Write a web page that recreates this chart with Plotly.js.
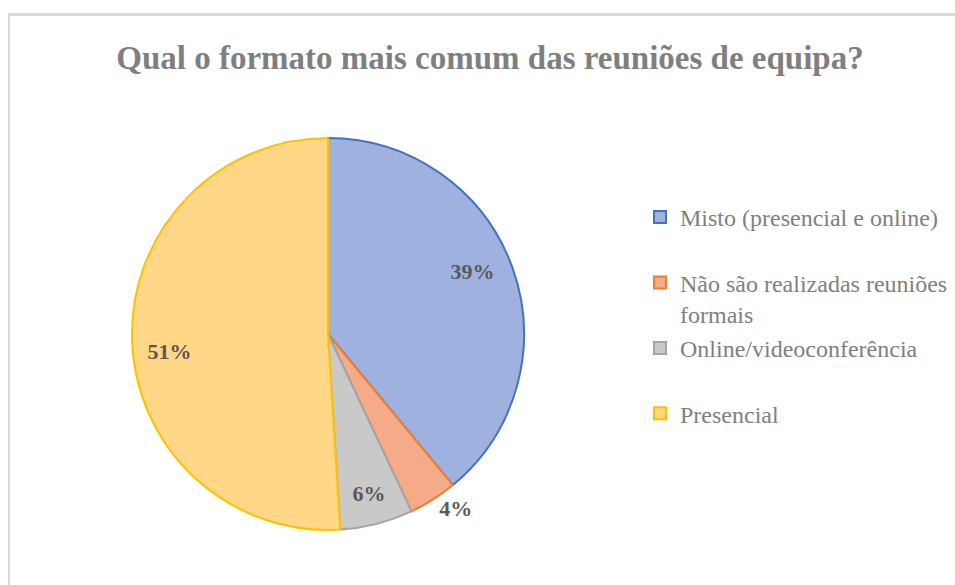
<!DOCTYPE html>
<html>
<head>
<meta charset="utf-8">
<script src="https://cdn.plot.ly/plotly-3.0.1.min.js"></script>
<style>
  html, body { margin: 0; padding: 0; background: #ffffff; }
  #frame { position: absolute; left: 8px; top: 13px; width: 960px; height: 600px;
           border-left: 2px solid #d9d9d9; border-top: 3px solid #d9d9d9; }
  #chart { position: absolute; left: 0; top: 0; width: 955px; height: 585px; }
</style>
</head>
<body>
<div id="frame"></div>
<div id="chart"></div>
<script>
const titleText = "Qual o formato mais comum das reuniões de equipa?";
const categories = [
  "Misto (presencial e online)",
  "Não são realizadas reuniões<br>formais",
  "Online/videoconferência",
  "Presencial"
];
const values = [39, 4, 6, 51];
const fillColors = ["#9fb2df", "#f5ab88", "#c9c9c9", "#ffd787"];
const lineColors = ["#4472c4", "#ed7d31", "#a5a5a5", "#ffc000"];
const textPositions = ["inside", "outside", "inside", "inside"];

const NB = "\u00a0";
const pad = n => NB.repeat(n);
// label templates (padding only nudges the visible label like Excel's best-fit placement)
const labelTemplates = [
  pad(18) + "%{percent:.0%}<br>" + NB + "<br>" + NB,
  "%{percent:.0%}",
  "%{percent:.0%}",
  NB + "<br>%{percent:.0%}" + pad(22)
];
// legend padding so entries are spread like the original
const legendLabels = [
  categories[0] + "<br>" + NB,
  categories[1],
  categories[2] + "<br>" + NB,
  categories[3]
];

const W = 955, H = 585;
const cx = 328, cy = 334, r = 196;

const trace = {
  type: "pie",
  labels: legendLabels,
  values: values,
  sort: false,
  direction: "clockwise",
  rotation: 0,
  marker: { colors: fillColors, line: { color: lineColors, width: 2 } },
  texttemplate: labelTemplates,
  textposition: textPositions,
  insidetextorientation: "horizontal",
  textfont: { family: "Liberation Serif, serif", size: 22, color: "#595959", weight: "bold" },
  hoverinfo: "label+percent",
  domain: { x: [(cx - r) / W, (cx + r) / W], y: [1 - (cy + r) / H, 1 - (cy - r) / H] },
  showlegend: true
};

const layout = {
  width: W, height: H,
  margin: { l: 0, r: 0, t: 0, b: 0 },
  paper_bgcolor: "rgba(0,0,0,0)",
  plot_bgcolor: "rgba(0,0,0,0)",
  title: {
    text: "<b>" + titleText + "</b>",
    x: 490 / W, xanchor: "center",
    y: 1 - 57 / H, yanchor: "middle",
    font: { family: "Liberation Serif, serif", size: 33, color: "#7f7f7f" }
  },
  legend: {
    x: 640 / W, xanchor: "left",
    y: 1 - 195 / H, yanchor: "top",
    valign: "top",
    font: { family: "Liberation Serif, serif", size: 24, color: "#7f7f7f" },
    bgcolor: "rgba(0,0,0,0)",
    traceorder: "normal"
  }
};

Plotly.newPlot("chart", [trace], layout, { displayModeBar: false, staticPlot: true });
</script>
</body>
</html>
